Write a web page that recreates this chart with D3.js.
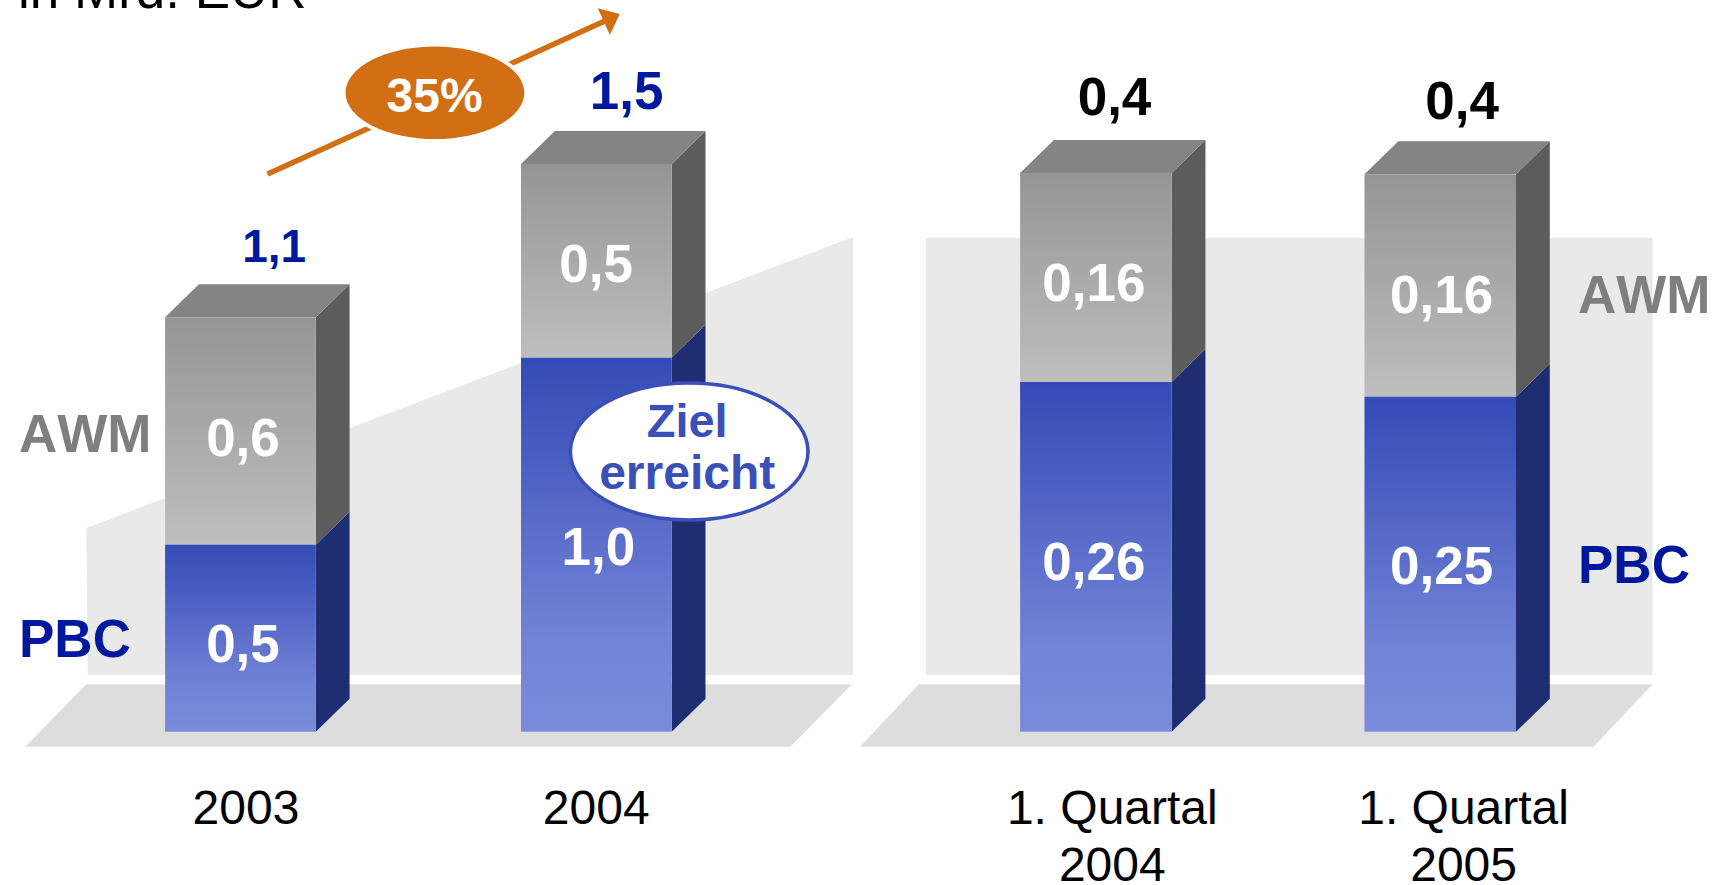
<!DOCTYPE html>
<html lang="de"><head><meta charset="utf-8">
<script src="https://cdnjs.cloudflare.com/ajax/libs/d3/7.8.5/d3.min.js"></script>
<style>html,body{margin:0;padding:0;background:#fff;overflow:hidden}svg{display:block}
text{font-family:"Liberation Sans",Arial,sans-serif;font-kerning:none}</style></head>
<body><div id="chart"></div>
<script>
// ---- data ----
const yearCats = ["2003", "2004"];
const yearPBC = [0.5, 1.0];
const yearAWM = [0.608, 0.518];
const yearPBCLabels = ["0,5", "1,0"];
const yearAWMLabels = ["0,6", "0,5"];
const yearTotals = ["1,1", "1,5"];
const quarterCats = ["1. Quartal 2004", "1. Quartal 2005"];
const quarterPBC = [0.261, 0.25];
const quarterAWM = [0.156, 0.166];
const quarterPBCLabels = ["0,26", "0,25"];
const quarterAWMLabels = ["0,16", "0,16"];
const quarterTotals = ["0,4", "0,4"];

// ---- layout ----
const W = 1720, H = 885, Y0 = 731.7, DX = 33.8, DY = 33;
const C = {grey1:"#959595",grey2:"#bebebe",blue1:"#344ab6",blue2:"#7283d6",blue3:"#7a8bdb",top:"#848484",sideG:"#5c5c5c",sideB:"#1f2e73",
  wall:"#e9e9e9",floor:"#dddddd",orange:"#d26e14",navy:"#00189c",lbl:"#7f7f7f",ring:"#3a50b8"};
const panels = [
 {cats:yearCats,pbc:yearPBC,awm:yearAWM,pl:yearPBCLabels,al:yearAWMLabels,tot:yearTotals,
  x:d3.scaleBand().domain(yearCats).range([165.1,671.7]).paddingInner(0.5766).paddingOuter(0),
  y:d3.scaleLinear().domain([0,1]).range([Y0,Y0-374]),
  totFill:C.navy, totSize:[46,53], totDx:[33.75,30.25], totY:[262,109], aDx:[2.55,-0.15], aY:[455.5,282], pDx:[2.55,2.05], pY:[661.7,565],
  catDx:[5.55,-0.15],
  wall:[[86.3,528],[853,237],[853,675],[87.8,675]], floor:[[86.3,684.3],[852,684.3],[790.3,746.7],[25.2,746.7]]},
 {cats:quarterCats,pbc:quarterPBC,awm:quarterAWM,pl:quarterPBCLabels,al:quarterAWMLabels,tot:quarterTotals,
  x:d3.scaleBand().domain(quarterCats).range([1020.1,1516]).paddingInner(0.56).paddingOuter(0),
  y:d3.scaleLinear().domain([0,0.25]).range([Y0,Y0-335]),
  totFill:"#000", totSize:[53,53], totDx:[18.65,21.95], totY:[115,119], aDx:[-1.95,1.35], aY:[301.2,312.7], pDx:[-1.95,1.35], pY:[580,584],
  catDx:[16.45,23.35],
  wall:[[925.8,237.7],[1652.5,237.7],[1652.5,675],[925.8,675]], floor:[[918.7,684.3],[1652.5,684.3],[1593.8,746.7],[860,746.7]]}
];

const svg = d3.select("#chart").append("svg").attr("width",W).attr("height",H).attr("viewBox",`0 0 ${W} ${H}`);
const defs = svg.append("defs");
function grad(id,stops){const g=defs.append("linearGradient").attr("id",id).attr("x1",0).attr("x2",0).attr("y1",0).attr("y2",1);
  stops.forEach(([o,c])=>g.append("stop").attr("offset",o).attr("stop-color",c));}
grad("gGrey",[[0,C.grey1],[1,C.grey2]]);
grad("gBlue",[[0,C.blue1],[0.75,C.blue2],[1,C.blue3]]);

const poly = (pts)=>"M"+pts.map(p=>p.join(",")).join("L")+"Z";
const txt=(x,y,s,size,fill,weight,anchor="middle")=>svg.append("text").attr("x",x).attr("y",y).attr("font-size",size)
  .attr("fill",fill).attr("font-weight",weight).attr("text-anchor",anchor).text(s);

panels.forEach(p=>{
  svg.append("path").attr("d",poly(p.wall)).attr("fill",C.wall);
  svg.append("path").attr("d",poly(p.floor)).attr("fill",C.floor);
});
panels.forEach(p=>{
  p.cats.forEach((c,i)=>{
    const x0=p.x(c), x1=x0+p.x.bandwidth();
    const yb=p.y(p.pbc[i]);
    const yt=p.y(p.pbc[i]+p.awm[i]);
    svg.append("path").attr("d",poly([[x1,Y0],[x1+DX,Y0-DY],[x1+DX,yb-DY],[x1,yb]])).attr("fill",C.sideB);
    svg.append("path").attr("d",poly([[x1,yb],[x1+DX,yb-DY],[x1+DX,yt-DY],[x1,yt]])).attr("fill",C.sideG);
    svg.append("path").attr("d",poly([[x0,yt],[x1,yt],[x1+DX,yt-DY],[x0+DX,yt-DY]])).attr("fill",C.top);
    svg.append("rect").attr("x",x0).attr("y",yt).attr("width",x1-x0).attr("height",yb-yt).attr("fill","url(#gGrey)");
    svg.append("rect").attr("x",x0).attr("y",yb).attr("width",x1-x0).attr("height",Y0-yb).attr("fill","url(#gBlue)");
    const xc=x0+(x1-x0)/2;
    txt(xc+p.aDx[i],p.aY[i],p.al[i],53,"#fff","bold");
    txt(xc+p.pDx[i],p.pY[i],p.pl[i],53,"#fff","bold");
    txt(xc+p.totDx[i],p.totY[i],p.tot[i],p.totSize[i],p.totFill,"bold");
    const cx=xc+p.catDx[i];
    const m=c.match(/^(1\. Quartal) (\d+)$/);
    if(m){ txt(cx,824,m[1],48,"#000","normal"); txt(cx,881,m[2],48,"#000","normal"); }
    else txt(cx,824,c,48,"#000","normal");
  });
});

// title
txt(18,8,"in Mrd. EUR",53,"#000","normal","start");
// series labels
txt(19,451.7,"AWM",53,C.lbl,"bold","start");
txt(19,657,"PBC",53,C.navy,"bold","start");
txt(1578,312.7,"AWM",53,C.lbl,"bold","start");
txt(1578,583,"PBC",53,C.navy,"bold","start");

// growth arrow
svg.append("line").attr("x1",267.6).attr("y1",174).attr("x2",607).attr("y2",20).attr("stroke",C.orange).attr("stroke-width",5.5);
svg.append("path").attr("d",poly([[619.8,14],[597.8,8.3],[609.9,35]])).attr("fill",C.orange);
svg.append("ellipse").attr("cx",434.9).attr("cy",92.8).attr("rx",93.5).attr("ry",50).attr("fill","#fff");
svg.append("ellipse").attr("cx",434.9).attr("cy",92.8).attr("rx",89.4).attr("ry",46.3).attr("fill",C.orange);
txt(434.6,111.7,"35%",48,"#fff","bold");

// target bubble
svg.append("ellipse").attr("cx",689.2).attr("cy",451.5).attr("rx",118.8).attr("ry",68.5).attr("fill","#fff").attr("stroke",C.ring).attr("stroke-width",3.5);
txt(687.2,437,"Ziel",47,C.ring,"bold");
txt(687.2,489,"erreicht",48,C.ring,"bold");
</script></body></html>
